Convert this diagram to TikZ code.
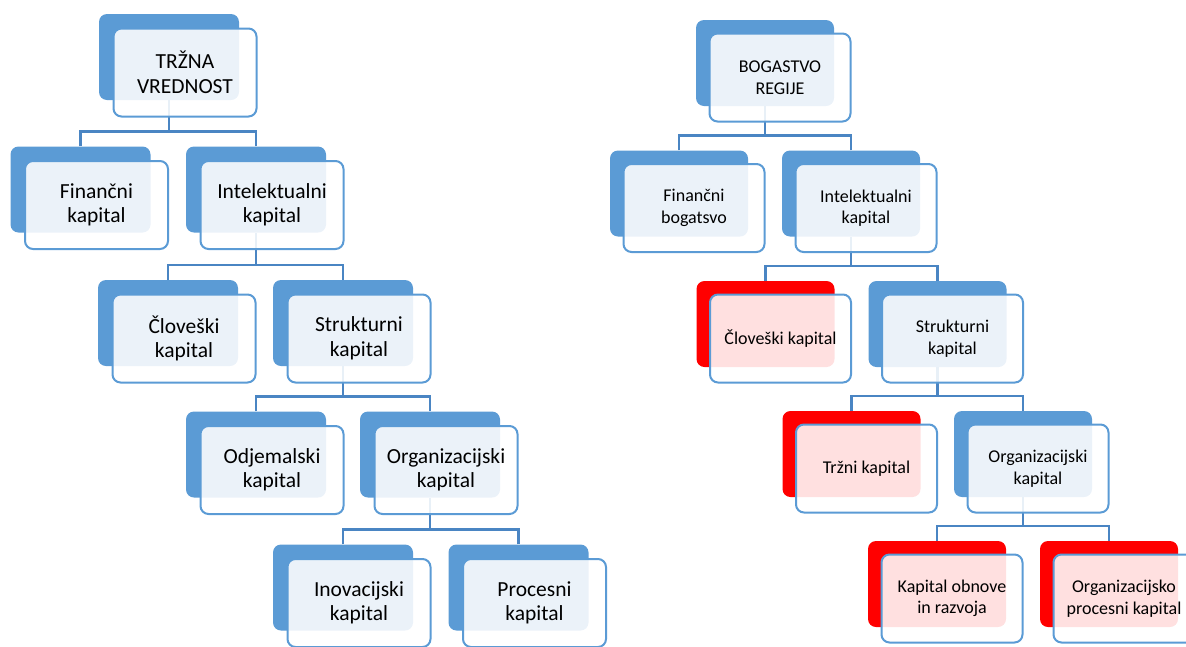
\documentclass[tikz,border=0pt]{standalone}
\usepackage{fontspec}
\setmainfont{Carlito}
\definecolor{modra}{HTML}{5B9BD5}
\definecolor{rdeca}{HTML}{FF0000}
\definecolor{crta}{HTML}{4A85C3}
\begin{document}
\begin{tikzpicture}[x=1pt, y=-1pt,
    zadaj/.style={rounded corners=8pt, fill=modra, minimum width=140pt, minimum height=86pt},
    zadajr/.style={zadaj, fill=rdeca},
    spredaj/.style={rounded corners=8pt, draw=modra, line width=2pt, fill=white, fill opacity=0.88, text opacity=1, minimum width=143pt, minimum height=88pt, align=center},
    velik/.style={spredaj, font=\fontsize{21.5}{24.5}\selectfont},
    mali/.style={spredaj, font=\fontsize{18}{21.5}\selectfont},
    vez/.style={draw=crta, line width=2.5pt}]
    \useasboundingbox (0,0) rectangle (1186,646);

    % levo drevo - zadnji pravokotniki
    \node[zadaj] (tv) at (169, 57) {};
    \node[zadaj] (fk) at (80.5, 189.5) {};
    \node[zadaj] (ik) at (256, 189.5) {};
    \node[zadaj] (ck) at (168, 323) {};
    \node[zadaj] (sk) at (343, 323) {};
    \node[zadaj] (odk) at (256, 454.5) {};
    \node[zadaj] (ok) at (430, 454.5) {};
    \node[zadaj] (ink) at (343, 587.5) {};
    \node[zadaj] (pk) at (518.5, 587.5) {};

    % desno drevo - zadnji pravokotniki
    \node[zadaj, minimum width=138pt] (br) at (765, 63) {};
    \node[zadaj, minimum width=138pt] (fb) at (679, 193.5) {};
    \node[zadaj, minimum width=138pt] (ik2) at (851, 193.5) {};
    \node[zadajr, minimum width=138pt] (ck2) at (765.5, 324) {};
    \node[zadaj, minimum width=138pt] (sk2) at (937.5, 324) {};
    \node[zadajr, minimum width=138pt] (tk) at (851.5, 454) {};
    \node[zadaj, minimum width=138pt] (ok2) at (1023, 454) {};
    \node[zadajr, minimum width=138pt] (kor) at (937, 584) {};
    \node[zadajr, minimum width=138pt] (opk) at (1109, 584) {};

    % povezave
    \draw[vez] (fk.north) -- ++(0,-15) -| (tv.south);
    \draw[vez] (ik.north) -- ++(0,-15) -| (tv.south);
    \draw[vez] (ck.north) -- ++(0,-15) -| (ik.south);
    \draw[vez] (sk.north) -- ++(0,-15) -| (ik.south);
    \draw[vez] (odk.north) -- ++(0,-15) -| (sk.south);
    \draw[vez] (ok.north) -- ++(0,-15) -| (sk.south);
    \draw[vez] (ink.north) -- ++(0,-15) -| (ok.south);
    \draw[vez] (pk.north) -- ++(0,-15) -| (ok.south);

    \draw[vez] (fb.north) -- ++(0,-15) -| (br.south);
    \draw[vez] (ik2.north) -- ++(0,-15) -| (br.south);
    \draw[vez] (ck2.north) -- ++(0,-15) -| (ik2.south);
    \draw[vez] (sk2.north) -- ++(0,-15) -| (ik2.south);
    \draw[vez] (tk.north) -- ++(0,-15) -| (sk2.south);
    \draw[vez] (ok2.north) -- ++(0,-15) -| (sk2.south);
    \draw[vez] (kor.north) -- ++(0,-15) -| (ok2.south);
    \draw[vez] (opk.north) -- ++(0,-15) -| (ok2.south);

    % levo drevo - besedila
    \node[velik] (tv-t) at (185, 72.5) {TRŽNA\\VREDNOST};
    \node[velik] (fk-t) at (96.5, 205) {Finančni\\kapital};
    \node[velik] (ik-t) at (272, 205) {Intelektualni\\kapital};
    \node[velik] (ck-t) at (184, 338.5) {Človeški\\kapital};
    \node[velik] (sk-t) at (359, 338.5) {Strukturni\\kapital};
    \node[velik] (odk-t) at (272, 470) {Odjemalski\\kapital};
    \node[velik] (ok-t) at (446, 470) {Organizacijski\\kapital};
    \node[velik] (ink-t) at (359, 603) {Inovacijski\\kapital};
    \node[velik] (pk-t) at (534.5, 603) {Procesni\\kapital};

    % desno drevo - besedila
    \node[mali, minimum width=141pt] (br-t) at (780, 77.5) {BOGASTVO\\REGIJE};
    \node[mali, minimum width=141pt] (fb-t) at (694, 208) {Finančni\\bogatsvo};
    \node[mali, minimum width=141pt] (ik2-t) at (866, 208) {Intelektualni\\kapital};
    \node[mali, minimum width=141pt] (ck2-t) at (780.5, 338.5) {Človeški kapital};
    \node[mali, minimum width=141pt] (sk2-t) at (952.5, 338.5) {Strukturni\\kapital};
    \node[mali, minimum width=141pt] (tk-t) at (866.5, 468.5) {Tržni kapital};
    \node[mali, minimum width=141pt] (ok2-t) at (1038, 468.5) {Organizacijski\\kapital};
    \node[mali, minimum width=141pt] (kor-t) at (952, 598.5) {Kapital obnove\\in razvoja};
    \node[mali, minimum width=141pt] (opk-t) at (1124, 598.5) {Organizacijsko\\procesni kapital};
\end{tikzpicture}
\end{document}
